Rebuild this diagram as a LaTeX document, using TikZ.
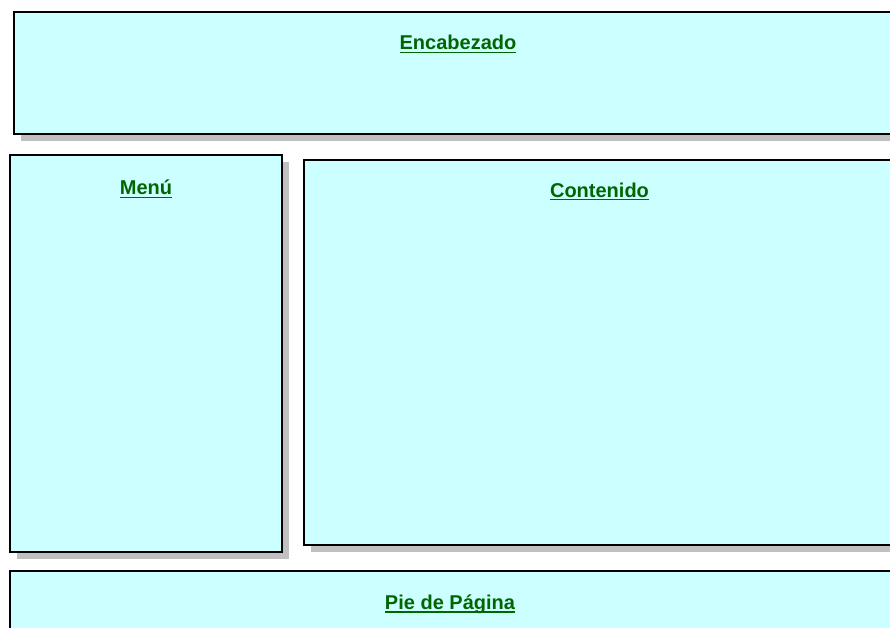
\documentclass[tikz,border=0pt]{standalone}
\usepackage{fontspec}
\setmainfont{Liberation Sans}
\usepackage{tikz}
\usetikzlibrary{shadows,calc}
\definecolor{celeste}{HTML}{CCFFFF}
\definecolor{sombra}{HTML}{C0C0C0}
\definecolor{verde}{HTML}{006600}
\newcommand{\subrayado}[1]{\setbox0\hbox{#1}\rlap{\color{verde}\rule[-3.5pt]{\wd0}{1.8pt}}\box0}

\begin{document}
\begin{tikzpicture}[x=1pt,y=-1pt,
  caja/.style={draw=black,line width=2pt,fill=celeste,rectangle,inner sep=0pt,
    drop shadow={shadow xshift=7pt,shadow yshift=-7pt,fill=sombra,opacity=1}},
  titulo/.style={anchor=base,text=verde,font=\fontsize{20}{24}\selectfont\bfseries}]
\clip (0,0) rectangle (890,628);
\useasboundingbox (0,0) rectangle (890,628);
\fill[white] (0,0) rectangle (890,628);
% cajas
\node[caja,minimum width=888pt,minimum height=122pt] (encabezado) at (458,73) {};
\node[caja,minimum width=272pt,minimum height=397pt] (menu) at (146,353.5) {};
\node[caja,minimum width=591pt,minimum height=385pt] (contenido) at (599.5,352.5) {};
\node[caja,minimum width=900pt,minimum height=100pt] (pie) at (460,621) {};
% titulos
\node[titulo] (tEnc) at ($(encabezado.north)+(0,39)$) {\subrayado{Encabezado}};
\node[titulo] (tMenu) at ($(menu.north)+(0,41)$) {\subrayado{Menú}};
\node[titulo] (tCont) at ($(contenido.north)+(0,38)$) {\subrayado{Contenido}};
\node[titulo] (tPie) at ($(pie.north)+(-10,39)$) {\subrayado{Pie de Página}};
\end{tikzpicture}
\end{document}
